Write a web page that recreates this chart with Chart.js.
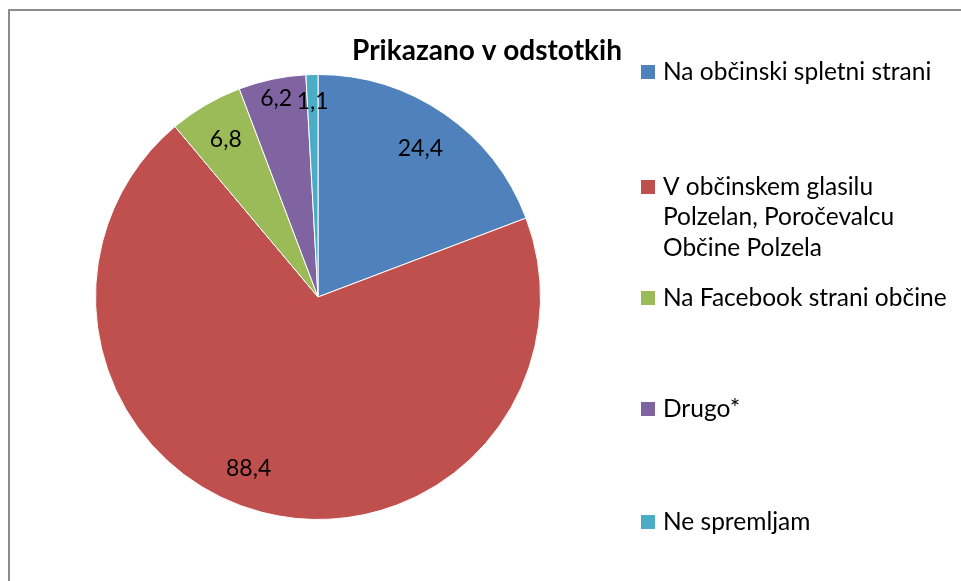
<!DOCTYPE html>
<html>
<head>
<meta charset="utf-8">
<script src="https://cdn.jsdelivr.net/npm/chart.js@4.4.1/dist/chart.umd.min.js"></script>
<style>
  html, body { margin: 0; padding: 0; background: #fff; overflow: hidden; }
  #frame { position: absolute; left: 8px; top: 9px; width: 1200px; height: 900px; border: 2px solid #8c8c8c; }
  #wrap { position: absolute; left: 0; top: 0; width: 961px; height: 581px; }
</style>
</head>
<body>
<div id="frame"></div>
<div id="wrap"><canvas id="pie"></canvas></div>
<script>
// podatki
var naslov = 'Prikazano v odstotkih';
var kategorije = [
    ['Na občinski spletni strani'],
    ['V občinskem glasilu', 'Polzelan, Poročevalcu', 'Občine Polzela'],
    ['Na Facebook strani občine'],
    ['Drugo*'],
    ['Ne spremljam']
];
var vrednosti = [24.4, 88.4, 6.8, 6.2, 1.1];
var barve = ['#4f81bd', '#c0504d', '#9bbb59', '#8064a2', '#4bacc6'];

var pisava = 'Lato, "Open Sans", sans-serif';

// oznake vrednosti v rezinah
var oznakePlugin = {
    id: 'oznake',
    afterDatasetsDraw: function (chart) {
        var ctx = chart.ctx;
        var meta = chart.getDatasetMeta(0);
        var faktor = [0.81, 0.83, 0.82, 0.91, 0.88];
        var zamik = [0, 0.13, 0, 0, 0]; // radianov
        ctx.save();
        ctx.font = '23px ' + pisava;
        ctx.fillStyle = '#000';
        ctx.textAlign = 'center';
        ctx.textBaseline = 'middle';
        meta.data.forEach(function (arc, i) {
            var kot = (arc.startAngle + arc.endAngle) / 2 + zamik[i];
            var r = arc.outerRadius * faktor[i];
            var x = arc.x + Math.cos(kot) * r;
            var y = arc.y + Math.sin(kot) * r;
            ctx.fillText(String(vrednosti[i]).replace('.', ','), x, y);
        });
        ctx.restore();
    }
};

// naslov in legenda
var legendaPlugin = {
    id: 'legenda',
    afterDraw: function (chart) {
        var ctx = chart.ctx;
        ctx.save();
        ctx.fillStyle = '#000';
        ctx.font = 'bold 28px ' + pisava;
        ctx.textAlign = 'center';
        ctx.textBaseline = 'middle';
        ctx.fillText(naslov, 487, 51);

        var vrstice = [[72], [187, 217, 248], [298], [409], [522]];
        ctx.font = '24.5px ' + pisava;
        ctx.textAlign = 'left';
        kategorije.forEach(function (k, i) {
            ctx.fillStyle = barve[i];
            ctx.fillRect(641, vrstice[i][0] - 7, 14, 14);
            ctx.fillStyle = '#000';
            k.forEach(function (t, j) {
                ctx.fillText(t, 663, vrstice[i][j]);
            });
        });
        ctx.restore();
    }
};

var pieChart = new Chart(document.getElementById('pie'), {
    type: 'pie',
    data: {
        labels: kategorije.map(function (k) { return k.join(' '); }),
        datasets: [{
            data: vrednosti,
            backgroundColor: barve,
            borderColor: '#ffffff',
            borderWidth: 1
        }]
    },
    options: {
        responsive: true,
        maintainAspectRatio: false,
        animation: false,
        layout: { padding: { left: 95, right: 420, top: 74, bottom: 61 } },
        plugins: {
            legend: { display: false },
            title: { display: false },
            tooltip: { enabled: false }
        }
    },
    plugins: [oznakePlugin, legendaPlugin]
});
</script>
</body>
</html>
